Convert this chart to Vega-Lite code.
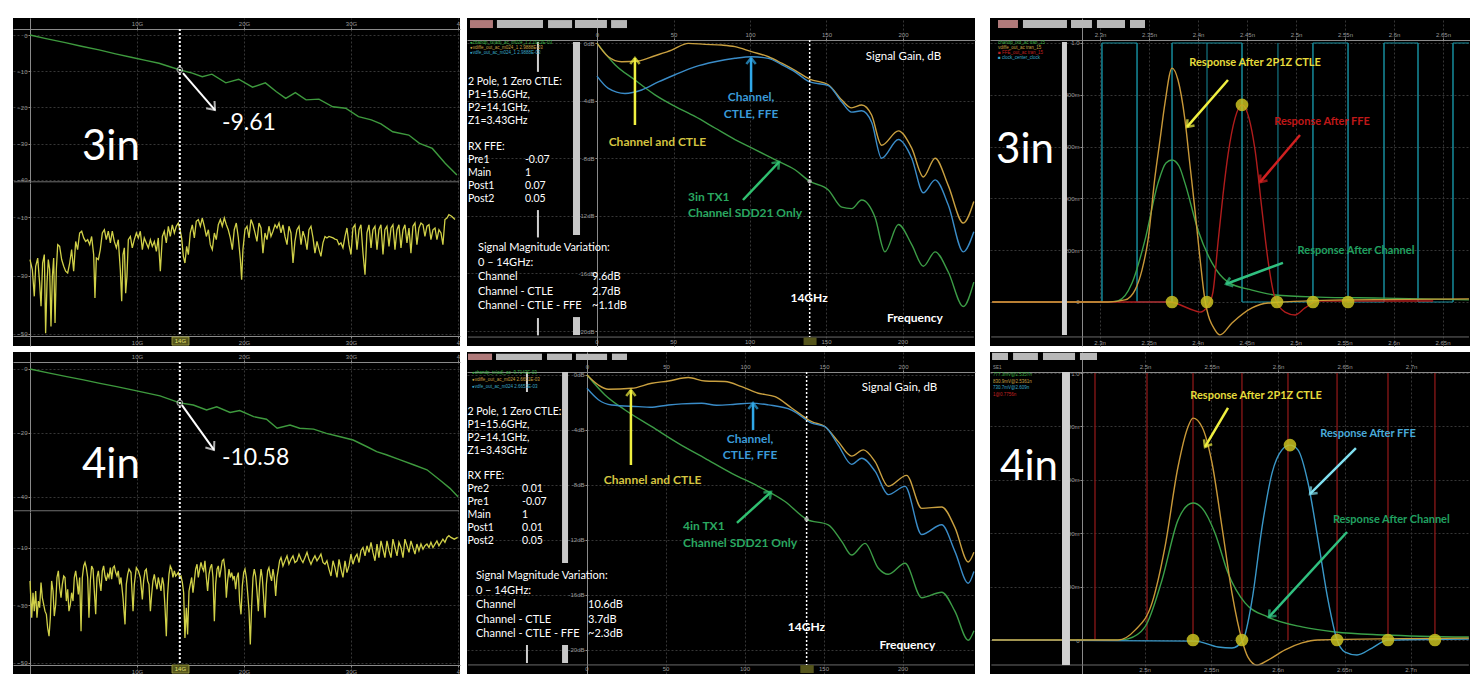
{
"$schema":"https://vega.github.io/schema/vega-lite/v6.json",
"background":"white",
"padding":{"left":13,"top":18,"right":0,"bottom":0},
"data":{"values":[{}]},
"config":{
 "view":{"stroke":null,"fill":"black"},
 "axis":{"labelColor":"#9a9a9a","labelFont":"Liberation Sans","labelFontSize":6,"domainColor":"#8a8a8a","tickColor":"#8a8a8a","gridColor":"#363636","gridDash":[2,2],"tickSize":2,"labelPadding":1,"labelFlush":false,"labelOverlap":false},
 "text":{"font":"Lato","color":"white"}
},
"datasets":{
"lu":[{"x":0,"y":0},{"x":1.5,"y":-1.0},{"x":3.3,"y":-2.1},{"x":4.8,"y":-3.1},{"x":6.45,"y":-4.1},{"x":8,"y":-5.2},{"x":9.56,"y":-6.2},{"x":10.8,"y":-7.0},{"x":12.06,"y":-7.8},{"x":13,"y":-8.7},{"x":14,"y":-9.61},{"x":15.17,"y":-10.5},{"x":16.1,"y":-11.5},{"x":17.0,"y":-10.8},{"x":18.3,"y":-13.2},{"x":19.5,"y":-12.2},{"x":20.8,"y":-14.4},{"x":22.0,"y":-13.2},{"x":23.0,"y":-15.6},{"x":23.9,"y":-17.5},{"x":24.8,"y":-15.9},{"x":25.8,"y":-17.9},{"x":27.0,"y":-17.7},{"x":28.3,"y":-19.8},{"x":29.5,"y":-20.2},{"x":30.7,"y":-22.5},{"x":31.9,"y":-23.4},{"x":32.8,"y":-24.5},{"x":33.9,"y":-26.7},{"x":35.4,"y":-27.6},{"x":36.4,"y":-29.9},{"x":37.6,"y":-31.3},{"x":38.8,"y":-35.4},{"x":39.9,"y":-38.6}],
"blu":[{"x":0,"y":0},{"x":1.7,"y":-1.2},{"x":3.43,"y":-2.4},{"x":5,"y":-3.4},{"x":6.54,"y":-4.5},{"x":8.1,"y":-5.5},{"x":9.65,"y":-6.6},{"x":12.15,"y":-8.4},{"x":14,"y":-10.58},{"x":15.26,"y":-11.25},{"x":16.5,"y":-12.8},{"x":17.45,"y":-11.8},{"x":18.7,"y":-13.6},{"x":19.6,"y":-13.0},{"x":20.9,"y":-14.9},{"x":22.1,"y":-15.7},{"x":23.1,"y":-18.5},{"x":24.3,"y":-17.5},{"x":25.2,"y":-18.5},{"x":26.5,"y":-18.8},{"x":27.7,"y":-20.1},{"x":28.9,"y":-21.1},{"x":30.2,"y":-22.2},{"x":31.5,"y":-24.3},{"x":32.4,"y":-25.8},{"x":33.3,"y":-26.8},{"x":34.6,"y":-28.4},{"x":35.9,"y":-30},{"x":37.1,"y":-31.5},{"x":38.3,"y":-34.7},{"x":39.25,"y":-37.3},{"x":40.0,"y":-39.9}],
"ll":[{"x":0,"y":-24.5},{"x":0.22,"y":-28},{"x":0.4,"y":-37.1},{"x":0.53,"y":-26.8},{"x":0.72,"y":-24},{"x":0.9,"y":-32.5},{"x":1.03,"y":-40.5},{"x":1.18,"y":-25.7},{"x":1.34,"y":-22.8},{"x":1.46,"y":-49.7},{"x":1.59,"y":-32.5},{"x":1.71,"y":-24.5},{"x":1.84,"y":-28},{"x":1.96,"y":-47.4},{"x":2.09,"y":-30.3},{"x":2.21,"y":-24},{"x":2.34,"y":-46.2},{"x":2.46,"y":-28},{"x":2.59,"y":-19.4},{"x":2.77,"y":-20},{"x":2.96,"y":-24.5},{"x":3.15,"y":-26.8},{"x":3.33,"y":-28.5},{"x":3.52,"y":-29.1},{"x":3.71,"y":-25.7},{"x":3.89,"y":-21.1},{"x":4.08,"y":-28.5},{"x":4.27,"y":-18.3},{"x":4.45,"y":-21.1},{"x":4.64,"y":-15.4},{"x":4.83,"y":-14.8},{"x":5.02,"y":-17.1},{"x":5.2,"y":-18.3},{"x":5.39,"y":-17.7},{"x":5.58,"y":-19.4},{"x":5.76,"y":-16.6},{"x":5.95,"y":-22.8},{"x":6.07,"y":-37.7},{"x":6.2,"y":-24},{"x":6.39,"y":-24.5},{"x":6.57,"y":-21.1},{"x":6.76,"y":-15.4},{"x":6.95,"y":-14.3},{"x":7.13,"y":-17.7},{"x":7.32,"y":-14.8},{"x":7.51,"y":-18.8},{"x":7.69,"y":-14.8},{"x":7.88,"y":-18.3},{"x":8.07,"y":-20.5},{"x":8.25,"y":-17.7},{"x":8.44,"y":-28},{"x":8.57,"y":-38.8},{"x":8.69,"y":-22.8},{"x":8.82,"y":-20.5},{"x":8.94,"y":-36},{"x":9.06,"y":-30.3},{"x":9.19,"y":-17.7},{"x":9.38,"y":-16.6},{"x":9.56,"y":-20.5},{"x":9.75,"y":-17.7},{"x":9.94,"y":-15.4},{"x":10.12,"y":-17.1},{"x":10.31,"y":-14.8},{"x":10.5,"y":-21.1},{"x":10.68,"y":-17.1},{"x":10.87,"y":-18.8},{"x":11.06,"y":-20.5},{"x":11.25,"y":-17.7},{"x":11.43,"y":-20},{"x":11.62,"y":-18.3},{"x":11.81,"y":-21.7},{"x":11.99,"y":-17.1},{"x":12.18,"y":-28.5},{"x":12.37,"y":-16.6},{"x":12.55,"y":-14.8},{"x":12.74,"y":-18.8},{"x":12.93,"y":-13.1},{"x":13.11,"y":-16.6},{"x":13.3,"y":-12.6},{"x":13.49,"y":-15.4},{"x":13.67,"y":-13.1},{"x":13.86,"y":-12},{"x":14.02,"y":-14.3},{"x":14.17,"y":-17.1},{"x":14.33,"y":-23.4},{"x":14.48,"y":-25.7},{"x":14.64,"y":-20},{"x":14.8,"y":-22.8},{"x":14.98,"y":-15.4},{"x":15.17,"y":-12.6},{"x":15.36,"y":-17.1},{"x":15.54,"y":-11.4},{"x":15.73,"y":-10.8},{"x":15.92,"y":-13.1},{"x":16.1,"y":-10.3},{"x":16.29,"y":-13.1},{"x":16.48,"y":-16.6},{"x":16.67,"y":-14.3},{"x":16.85,"y":-19.4},{"x":17.04,"y":-21.1},{"x":17.23,"y":-15.4},{"x":17.41,"y":-17.7},{"x":17.6,"y":-12.6},{"x":17.79,"y":-10.8},{"x":17.97,"y":-13.1},{"x":18.16,"y":-10.3},{"x":18.35,"y":-12.6},{"x":18.53,"y":-14.3},{"x":18.72,"y":-17.1},{"x":18.91,"y":-21.1},{"x":19.09,"y":-14.3},{"x":19.28,"y":-12},{"x":19.47,"y":-17.1},{"x":19.66,"y":-24.5},{"x":19.78,"y":-31.4},{"x":19.9,"y":-21.1},{"x":20.09,"y":-14.3},{"x":20.28,"y":-13.1},{"x":20.47,"y":-17.1},{"x":20.65,"y":-10.8},{"x":20.84,"y":-12.6},{"x":21.03,"y":-15.4},{"x":21.21,"y":-18.3},{"x":21.4,"y":-12},{"x":21.59,"y":-13.7},{"x":21.77,"y":-22.3},{"x":21.96,"y":-15.4},{"x":22.15,"y":-17.7},{"x":22.33,"y":-13.1},{"x":22.52,"y":-16.6},{"x":22.71,"y":-14.8},{"x":22.9,"y":-12.6},{"x":23.08,"y":-13.7},{"x":23.27,"y":-12},{"x":23.46,"y":-15.4},{"x":23.64,"y":-12.6},{"x":23.83,"y":-16.6},{"x":24.02,"y":-19.4},{"x":24.2,"y":-13.1},{"x":24.39,"y":-15.4},{"x":24.58,"y":-25.7},{"x":24.76,"y":-18.3},{"x":24.95,"y":-14.3},{"x":25.14,"y":-13.1},{"x":25.33,"y":-19.4},{"x":25.51,"y":-14.8},{"x":25.7,"y":-17.1},{"x":25.89,"y":-21.1},{"x":26.07,"y":-14.3},{"x":26.26,"y":-13.1},{"x":26.45,"y":-17.1},{"x":26.63,"y":-22.3},{"x":26.82,"y":-18.3},{"x":27.01,"y":-21.1},{"x":27.19,"y":-23.4},{"x":27.38,"y":-18.8},{"x":27.57,"y":-16.6},{"x":27.75,"y":-17.1},{"x":27.94,"y":-16.6},{"x":28.13,"y":-16.8},{"x":28.32,"y":-17.1},{"x":28.5,"y":-17.5},{"x":28.69,"y":-17.7},{"x":28.88,"y":-19.4},{"x":29.06,"y":-18.8},{"x":29.25,"y":-20.5},{"x":29.44,"y":-16.6},{"x":29.62,"y":-13.7},{"x":29.81,"y":-19.4},{"x":30,"y":-22.8},{"x":30.18,"y":-13.7},{"x":30.37,"y":-12.6},{"x":30.56,"y":-21.1},{"x":30.75,"y":-14.3},{"x":30.93,"y":-12.6},{"x":31.12,"y":-22.3},{"x":31.31,"y":-29.7},{"x":31.49,"y":-15.4},{"x":31.68,"y":-12.6},{"x":31.87,"y":-20.5},{"x":32.05,"y":-14.3},{"x":32.24,"y":-13.1},{"x":32.43,"y":-21.1},{"x":32.61,"y":-14.3},{"x":32.8,"y":-12.6},{"x":32.99,"y":-22.8},{"x":33.17,"y":-14.3},{"x":33.36,"y":-13.1},{"x":33.55,"y":-20},{"x":33.74,"y":-13.7},{"x":33.92,"y":-12.6},{"x":34.11,"y":-21.1},{"x":34.3,"y":-14.3},{"x":34.48,"y":-12.6},{"x":34.67,"y":-20.5},{"x":34.86,"y":-14.3},{"x":35.04,"y":-12.6},{"x":35.23,"y":-18.8},{"x":35.42,"y":-13.7},{"x":35.6,"y":-22.3},{"x":35.79,"y":-13.1},{"x":35.98,"y":-12},{"x":36.16,"y":-19.4},{"x":36.35,"y":-13.7},{"x":36.54,"y":-12},{"x":36.73,"y":-12.6},{"x":36.91,"y":-16.6},{"x":37.1,"y":-13.1},{"x":37.29,"y":-12.6},{"x":37.47,"y":-17.7},{"x":37.66,"y":-14.3},{"x":37.85,"y":-13.7},{"x":38.03,"y":-17.7},{"x":38.22,"y":-14.3},{"x":38.41,"y":-15.4},{"x":38.59,"y":-19.4},{"x":38.78,"y":-10.8},{"x":38.97,"y":-10.3},{"x":39.15,"y":-9.1},{"x":39.4,"y":-9.7},{"x":39.72,"y":-10.8}],
"bll":[{"x":0,"y":-21.5},{"x":0.16,"y":-34.3},{"x":0.28,"y":-25.6},{"x":0.4,"y":-32},{"x":0.53,"y":-25},{"x":0.65,"y":-34.3},{"x":0.78,"y":-28.5},{"x":0.9,"y":-30.8},{"x":1.03,"y":-22.1},{"x":1.15,"y":-27.3},{"x":1.28,"y":-29.7},{"x":1.4,"y":-32},{"x":1.53,"y":-33.1},{"x":1.65,"y":-37.8},{"x":1.78,"y":-40.7},{"x":1.9,"y":-34.3},{"x":2.02,"y":-21.5},{"x":2.15,"y":-25},{"x":2.27,"y":-33.7},{"x":2.4,"y":-29.7},{"x":2.52,"y":-20.3},{"x":2.65,"y":-18},{"x":2.77,"y":-23.8},{"x":2.9,"y":-27.3},{"x":3.02,"y":-22.7},{"x":3.15,"y":-19.8},{"x":3.27,"y":-20.3},{"x":3.4,"y":-28.5},{"x":3.52,"y":-24.4},{"x":3.64,"y":-32},{"x":3.77,"y":-29.7},{"x":3.89,"y":-25.6},{"x":4.02,"y":-28.5},{"x":4.14,"y":-20.3},{"x":4.27,"y":-18},{"x":4.39,"y":-21.5},{"x":4.52,"y":-26.2},{"x":4.64,"y":-20.3},{"x":4.77,"y":-39},{"x":4.89,"y":-20.3},{"x":5.02,"y":-16.3},{"x":5.14,"y":-15.1},{"x":5.26,"y":-16.9},{"x":5.39,"y":-20.3},{"x":5.51,"y":-34.3},{"x":5.64,"y":-21.5},{"x":5.76,"y":-16.3},{"x":5.89,"y":-17.4},{"x":6.01,"y":-25},{"x":6.14,"y":-33.1},{"x":6.26,"y":-20.3},{"x":6.39,"y":-18},{"x":6.51,"y":-22.1},{"x":6.63,"y":-25},{"x":6.76,"y":-18},{"x":6.88,"y":-16.3},{"x":7.01,"y":-19.8},{"x":7.13,"y":-21.5},{"x":7.26,"y":-19.2},{"x":7.38,"y":-20.3},{"x":7.51,"y":-16.9},{"x":7.63,"y":-20.9},{"x":7.76,"y":-16.9},{"x":7.88,"y":-16.3},{"x":8.01,"y":-18.6},{"x":8.13,"y":-19.8},{"x":8.25,"y":-18},{"x":8.38,"y":-22.7},{"x":8.5,"y":-20.3},{"x":8.69,"y":-27.3},{"x":8.88,"y":-36.6},{"x":9,"y":-22.7},{"x":9.13,"y":-19.2},{"x":9.25,"y":-17.4},{"x":9.44,"y":-18.6},{"x":9.63,"y":-32},{"x":9.75,"y":-22.7},{"x":9.94,"y":-16.9},{"x":10.12,"y":-18},{"x":10.31,"y":-20.3},{"x":10.5,"y":-27.9},{"x":10.62,"y":-21.5},{"x":10.75,"y":-18},{"x":10.87,"y":-17.4},{"x":11,"y":-21.5},{"x":11.12,"y":-22.7},{"x":11.25,"y":-32},{"x":11.37,"y":-26.2},{"x":11.49,"y":-21.5},{"x":11.62,"y":-19.2},{"x":11.74,"y":-22.1},{"x":11.87,"y":-24.4},{"x":11.99,"y":-20.3},{"x":12.12,"y":-22.7},{"x":12.24,"y":-25},{"x":12.37,"y":-20.3},{"x":12.49,"y":-22.7},{"x":12.62,"y":-30.8},{"x":12.74,"y":-40.7},{"x":12.86,"y":-26.2},{"x":12.99,"y":-19.2},{"x":13.11,"y":-16.3},{"x":13.24,"y":-17.4},{"x":13.36,"y":-20.3},{"x":13.49,"y":-18},{"x":13.61,"y":-19.8},{"x":13.74,"y":-19.2},{"x":13.86,"y":-18.6},{"x":13.99,"y":-20.3},{"x":14.11,"y":-19.8},{"x":14.24,"y":-22.1},{"x":14.36,"y":-25.6},{"x":14.48,"y":-41.3},{"x":14.61,"y":-30.8},{"x":14.73,"y":-40.1},{"x":14.86,"y":-25},{"x":14.98,"y":-22.7},{"x":15.11,"y":-20.3},{"x":15.23,"y":-25.6},{"x":15.36,"y":-21.5},{"x":15.48,"y":-17.4},{"x":15.61,"y":-15.7},{"x":15.73,"y":-20.3},{"x":15.86,"y":-17.4},{"x":15.98,"y":-15.1},{"x":16.1,"y":-16.9},{"x":16.23,"y":-18},{"x":16.35,"y":-14.5},{"x":16.48,"y":-20.3},{"x":16.6,"y":-25},{"x":16.73,"y":-19.2},{"x":16.85,"y":-16.9},{"x":16.98,"y":-15.7},{"x":17.1,"y":-20.3},{"x":17.23,"y":-35.5},{"x":17.35,"y":-22.7},{"x":17.48,"y":-17.4},{"x":17.6,"y":-16.3},{"x":17.72,"y":-20.3},{"x":17.85,"y":-17.4},{"x":17.97,"y":-14.5},{"x":18.1,"y":-14},{"x":18.22,"y":-17.4},{"x":18.35,"y":-27.3},{"x":18.47,"y":-21.5},{"x":18.6,"y":-17.4},{"x":18.72,"y":-20.3},{"x":18.85,"y":-18.6},{"x":18.97,"y":-20.9},{"x":19.09,"y":-19.8},{"x":19.22,"y":-24.4},{"x":19.34,"y":-20.3},{"x":19.47,"y":-18.6},{"x":19.59,"y":-28.5},{"x":19.72,"y":-33.1},{"x":19.84,"y":-23.3},{"x":19.97,"y":-18.6},{"x":20.09,"y":-17.4},{"x":20.22,"y":-20.3},{"x":20.34,"y":-25.6},{"x":20.47,"y":-32},{"x":20.59,"y":-43.6},{"x":20.71,"y":-30.8},{"x":20.84,"y":-20.3},{"x":20.96,"y":-17.4},{"x":21.09,"y":-19.8},{"x":21.21,"y":-25},{"x":21.34,"y":-32},{"x":21.46,"y":-22.7},{"x":21.59,"y":-17.4},{"x":21.71,"y":-20.3},{"x":21.84,"y":-27.3},{"x":21.96,"y":-34.3},{"x":22.09,"y":-22.7},{"x":22.21,"y":-18},{"x":22.33,"y":-16.9},{"x":22.46,"y":-19.8},{"x":22.58,"y":-21.5},{"x":22.71,"y":-17.4},{"x":22.83,"y":-20.3},{"x":22.96,"y":-26.7},{"x":23.08,"y":-20.3},{"x":23.21,"y":-17.4},{"x":23.33,"y":-14.5},{"x":23.46,"y":-13.4},{"x":23.64,"y":-16.3},{"x":23.83,"y":-14.5},{"x":24.02,"y":-12.8},{"x":24.2,"y":-15.7},{"x":24.39,"y":-14},{"x":24.58,"y":-12.8},{"x":24.76,"y":-15.1},{"x":24.95,"y":-14.5},{"x":25.14,"y":-12.2},{"x":25.33,"y":-14},{"x":25.51,"y":-15.1},{"x":25.7,"y":-13.4},{"x":25.89,"y":-11.6},{"x":26.07,"y":-14},{"x":26.26,"y":-15.7},{"x":26.45,"y":-14},{"x":26.63,"y":-12.8},{"x":26.82,"y":-14.5},{"x":27.01,"y":-13.4},{"x":27.19,"y":-12.2},{"x":27.38,"y":-15.1},{"x":27.57,"y":-15.7},{"x":27.75,"y":-14.5},{"x":27.94,"y":-17.4},{"x":28.13,"y":-19.8},{"x":28.32,"y":-14.5},{"x":28.5,"y":-16.9},{"x":28.69,"y":-20.3},{"x":28.88,"y":-14},{"x":29.06,"y":-17.4},{"x":29.25,"y":-20.3},{"x":29.44,"y":-14.5},{"x":29.62,"y":-18.6},{"x":29.81,"y":-16.3},{"x":30,"y":-12.2},{"x":30.18,"y":-15.7},{"x":30.37,"y":-13.4},{"x":30.56,"y":-12.2},{"x":30.75,"y":-15.1},{"x":30.93,"y":-11},{"x":31.12,"y":-9.9},{"x":31.31,"y":-12.8},{"x":31.49,"y":-9.3},{"x":31.68,"y":-11.6},{"x":31.87,"y":-8.1},{"x":32.05,"y":-11.6},{"x":32.24,"y":-14.5},{"x":32.43,"y":-8.7},{"x":32.61,"y":-13.4},{"x":32.8,"y":-7.6},{"x":32.99,"y":-10.5},{"x":33.17,"y":-13.4},{"x":33.36,"y":-7.6},{"x":33.55,"y":-11},{"x":33.74,"y":-13.4},{"x":33.92,"y":-7},{"x":34.11,"y":-9.9},{"x":34.3,"y":-12.8},{"x":34.48,"y":-8.1},{"x":34.67,"y":-9.9},{"x":34.86,"y":-13.4},{"x":35.04,"y":-7},{"x":35.23,"y":-9.3},{"x":35.42,"y":-11.6},{"x":35.6,"y":-7.6},{"x":35.79,"y":-9.9},{"x":35.98,"y":-12.2},{"x":36.16,"y":-8.7},{"x":36.35,"y":-11},{"x":36.54,"y":-8.7},{"x":36.73,"y":-10.5},{"x":36.91,"y":-9.3},{"x":37.1,"y":-8.7},{"x":37.29,"y":-9.9},{"x":37.47,"y":-8.1},{"x":37.66,"y":-9.9},{"x":37.85,"y":-8.7},{"x":38.03,"y":-7.6},{"x":38.22,"y":-9.3},{"x":38.41,"y":-8.1},{"x":38.59,"y":-7},{"x":38.78,"y":-8.1},{"x":38.97,"y":-6.4},{"x":39.15,"y":-5.8},{"x":39.34,"y":-6.4},{"x":39.65,"y":-7},{"x":39.97,"y":-6.4}],
"mt_ch":[{"x":0,"y":0},{"x":11.8,"y":-1.5},{"x":24.8,"y":-2.57},{"x":37.9,"y":-3.6},{"x":51,"y":-4.4},{"x":64,"y":-5.1},{"x":77.1,"y":-5.9},{"x":90.2,"y":-6.7},{"x":103.3,"y":-7.4},{"x":116.3,"y":-8.1},{"x":129.4,"y":-8.8},{"x":139,"y":-9.6},{"x":151.2,"y":-10.2},{"x":160,"y":-11.4},{"x":166.4,"y":-11.5},{"x":173,"y":-10.9},{"x":181.7,"y":-12.1},{"x":188.2,"y":-14.5},{"x":197,"y":-12.6},{"x":205.7,"y":-14},{"x":213.3,"y":-15.5},{"x":221,"y":-14.5},{"x":229.6,"y":-15.9},{"x":239.4,"y":-18.3},{"x":246.3,"y":-16.6}],
"mt_ctle":[{"x":0,"y":0},{"x":7.4,"y":-0.95},{"x":16.1,"y":-1.3},{"x":27,"y":-1.25},{"x":37.9,"y":-0.88},{"x":48.8,"y":-0.49},{"x":59.7,"y":-0.02},{"x":70.6,"y":-0.09},{"x":81.5,"y":-0.14},{"x":90.2,"y":-0.25},{"x":101,"y":-0.6},{"x":112,"y":-0.95},{"x":120.7,"y":-1.4},{"x":129.4,"y":-1.9},{"x":139,"y":-2.5},{"x":151.2,"y":-2.9},{"x":160,"y":-3.96},{"x":166.4,"y":-4.5},{"x":173,"y":-4.3},{"x":179.5,"y":-5},{"x":186,"y":-7.1},{"x":197,"y":-6.1},{"x":205.7,"y":-7.3},{"x":213.3,"y":-9.3},{"x":221,"y":-8},{"x":229.6,"y":-9.9},{"x":239.4,"y":-12.5},{"x":246.3,"y":-11.0}],
"mt_ffe":[{"x":0,"y":-2.3},{"x":7.4,"y":-3.15},{"x":18.3,"y":-3.5},{"x":29.2,"y":-3.26},{"x":40.1,"y":-2.7},{"x":51,"y":-2.2},{"x":64,"y":-1.65},{"x":77.1,"y":-1.3},{"x":90.2,"y":-1.06},{"x":101,"y":-0.95},{"x":112,"y":-1.06},{"x":120.7,"y":-1.5},{"x":129.4,"y":-2},{"x":139,"y":-2.7},{"x":151.2,"y":-2.95},{"x":160,"y":-4.1},{"x":166.4,"y":-4.8},{"x":173,"y":-4.7},{"x":179.5,"y":-5.5},{"x":186,"y":-8},{"x":197,"y":-6.7},{"x":205.7,"y":-8},{"x":213.3,"y":-10.4},{"x":221,"y":-9.5},{"x":229.6,"y":-11.25},{"x":239.4,"y":-14.5},{"x":246.3,"y":-13.1}],
"mb_ch":[{"x":0,"y":0},{"x":11.4,"y":-1.45},{"x":24.1,"y":-2.55},{"x":41,"y":-3.76},{"x":57.8,"y":-4.97},{"x":74.7,"y":-6.06},{"x":91.6,"y":-7.15},{"x":108.4,"y":-8.1},{"x":125.3,"y":-9.2},{"x":139,"y":-10.5},{"x":152.7,"y":-10.9},{"x":161.2,"y":-12.1},{"x":167.5,"y":-13.1},{"x":176,"y":-12.25},{"x":184.4,"y":-14.06},{"x":190.7,"y":-14.5},{"x":201.3,"y":-13.7},{"x":211.8,"y":-16.2},{"x":224.5,"y":-15.8},{"x":232.9,"y":-17.2},{"x":241.3,"y":-19.3},{"x":244.9,"y":-18.6}],
"mb_ctle":[{"x":0,"y":0},{"x":7.2,"y":-0.73},{"x":13.5,"y":-1.04},{"x":28.3,"y":-0.97},{"x":41,"y":-0.6},{"x":51.5,"y":-0.44},{"x":64.1,"y":-0.19},{"x":74.7,"y":-0.44},{"x":87.3,"y":-0.48},{"x":97.9,"y":-0.85},{"x":108.4,"y":-1.33},{"x":119,"y":-1.58},{"x":129.5,"y":-2.4},{"x":142.2,"y":-3.4},{"x":150.6,"y":-3.76},{"x":159,"y":-4.85},{"x":167.5,"y":-5.9},{"x":174.9,"y":-5.45},{"x":182.3,"y":-6.3},{"x":190.7,"y":-8.1},{"x":202.3,"y":-7.3},{"x":211.8,"y":-9.7},{"x":224.5,"y":-9.6},{"x":232.9,"y":-11.1},{"x":241.3,"y":-13.6},{"x":244.9,"y":-12.9}],
"mb_ffe":[{"x":0,"y":-0.97},{"x":7.2,"y":-1.8},{"x":15.6,"y":-2.18},{"x":32.5,"y":-2.3},{"x":40,"y":-2.35},{"x":51.5,"y":-2.18},{"x":60,"y":-2.1},{"x":72.6,"y":-2.06},{"x":82,"y":-2.2},{"x":93.7,"y":-2.13},{"x":104,"y":-2.05},{"x":114.8,"y":-2.18},{"x":129.5,"y":-2.55},{"x":142.2,"y":-3.5},{"x":150.6,"y":-3.76},{"x":159,"y":-5.1},{"x":167.5,"y":-6.5},{"x":173.9,"y":-6.06},{"x":182.3,"y":-7},{"x":190.7,"y":-8.7},{"x":201.3,"y":-8.1},{"x":211.8,"y":-11.6},{"x":224.5,"y":-10.9},{"x":232.9,"y":-12.85},{"x":241.3,"y":-15.15},{"x":244.9,"y":-14.3}],
"tm":[{"v":0,"l":"0"},{"v":50,"l":"50"},{"v":100,"l":"100"},{"v":150,"l":"150"},{"v":200,"l":"200"}],
"trt":[{"v":2.3,"l":"2.3n"},{"v":2.35,"l":"2.35n"},{"v":2.4,"l":"2.4n"},{"v":2.45,"l":"2.45n"},{"v":2.5,"l":"2.5n"},{"v":2.55,"l":"2.55n"},{"v":2.6,"l":"2.6n"},{"v":2.65,"l":"2.65n"}],
"trb":[{"v":2.5,"l":"2.5n"},{"v":2.55,"l":"2.55n"},{"v":2.6,"l":"2.6n"},{"v":2.65,"l":"2.65n"},{"v":2.7,"l":"2.7n"}],
"rt_clk":[{"x":2.19,"y":0},{"x":2.302,"y":1},{"x":2.3378,"y":0},{"x":2.3735,"y":1},{"x":2.4449,"y":0},{"x":2.5173,"y":1},{"x":2.5531,"y":0},{"x":2.5898,"y":1},{"x":2.6245,"y":0},{"x":2.6602,"y":1},{"x":2.6765,"y":1}],
"rt_ui":[{"x":2.302},{"x":2.3378},{"x":2.3735},{"x":2.4092},{"x":2.4449},{"x":2.4816},{"x":2.5173},{"x":2.5531},{"x":2.5898},{"x":2.6245},{"x":2.6602}],
"rt_ch":[{"x":2.19,"y":0},{"x":2.3102,"y":0},{"x":2.3184,"y":0.004},{"x":2.3327,"y":0.073},{"x":2.3459,"y":0.239},{"x":2.3592,"y":0.459},{"x":2.3673,"y":0.537},{"x":2.3735,"y":0.548},{"x":2.3806,"y":0.525},{"x":2.3867,"y":0.459},{"x":2.4,"y":0.278},{"x":2.4143,"y":0.151},{"x":2.4306,"y":0.077},{"x":2.4551,"y":0.046},{"x":2.4786,"y":0.027},{"x":2.5224,"y":0.019},{"x":2.5908,"y":0.015},{"x":2.6765,"y":0.008}],
"rt_ctle":[{"x":2.19,"y":0},{"x":2.3082,"y":0},{"x":2.3255,"y":0.008},{"x":2.3357,"y":0.046},{"x":2.3429,"y":0.124},{"x":2.349,"y":0.239},{"x":2.3561,"y":0.483},{"x":2.3612,"y":0.625},{"x":2.3663,"y":0.768},{"x":2.3735,"y":0.903},{"x":2.3796,"y":0.857},{"x":2.3867,"y":0.703},{"x":2.3918,"y":0.529},{"x":2.3969,"y":0.355},{"x":2.402,"y":0.17},{"x":2.4071,"y":0.008},{"x":2.4173,"y":-0.108},{"x":2.4224,"y":-0.127},{"x":2.4347,"y":-0.081},{"x":2.4551,"y":-0.023},{"x":2.4714,"y":-0.004},{"x":2.55,"y":0.008},{"x":2.6765,"y":0.012}],
"rt_ffe":[{"x":2.19,"y":0},{"x":2.3714,"y":0},{"x":2.3918,"y":-0.027},{"x":2.402,"y":-0.039},{"x":2.4102,"y":-0.015},{"x":2.4153,"y":0.039},{"x":2.4204,"y":0.228},{"x":2.4255,"y":0.413},{"x":2.4306,"y":0.568},{"x":2.4378,"y":0.71},{"x":2.4449,"y":0.761},{"x":2.452,"y":0.71},{"x":2.4582,"y":0.587},{"x":2.4653,"y":0.355},{"x":2.4714,"y":0.162},{"x":2.4786,"y":0.015},{"x":2.4888,"y":-0.039},{"x":2.499,"y":-0.05},{"x":2.5092,"y":-0.023},{"x":2.5224,"y":0.004},{"x":2.64,"y":0.004}],
"rt_dots":[{"x":2.3735,"y":0},{"x":2.4092,"y":0},{"x":2.4449,"y":0.761},{"x":2.4806,"y":0},{"x":2.5173,"y":0},{"x":2.5531,"y":0}],
"rb_ui":[{"x":2.4624},{"x":2.5015},{"x":2.5361},{"x":2.5729},{"x":2.6075},{"x":2.6444},{"x":2.6827},{"x":2.718}],
"rb_ch":[{"x":2.385,"y":0},{"x":2.4812,"y":0},{"x":2.4872,"y":0.004},{"x":2.5,"y":0.049},{"x":2.5128,"y":0.225},{"x":2.5248,"y":0.449},{"x":2.5323,"y":0.506},{"x":2.5361,"y":0.513},{"x":2.5429,"y":0.494},{"x":2.5526,"y":0.401},{"x":2.5624,"y":0.251},{"x":2.5752,"y":0.139},{"x":2.5925,"y":0.086},{"x":2.618,"y":0.049},{"x":2.6429,"y":0.03},{"x":2.6805,"y":0.019},{"x":2.7435,"y":0.011}],
"rb_ctle":[{"x":2.385,"y":0},{"x":2.4797,"y":0},{"x":2.4925,"y":0.037},{"x":2.5053,"y":0.139},{"x":2.515,"y":0.348},{"x":2.5248,"y":0.648},{"x":2.5323,"y":0.798},{"x":2.5361,"y":0.831},{"x":2.5429,"y":0.798},{"x":2.5504,"y":0.663},{"x":2.5579,"y":0.423},{"x":2.5654,"y":0.176},{"x":2.5729,"y":0},{"x":2.5774,"y":-0.064},{"x":2.5842,"y":-0.094},{"x":2.5925,"y":-0.075},{"x":2.6053,"y":-0.037},{"x":2.618,"y":-0.011},{"x":2.63,"y":0},{"x":2.7435,"y":0.007}],
"rb_ffe":[{"x":2.385,"y":0},{"x":2.5376,"y":-0.004},{"x":2.5549,"y":-0.026},{"x":2.5654,"y":-0.03},{"x":2.5737,"y":0},{"x":2.5805,"y":0.15},{"x":2.588,"y":0.423},{"x":2.5955,"y":0.625},{"x":2.603,"y":0.712},{"x":2.609,"y":0.73},{"x":2.615,"y":0.712},{"x":2.6226,"y":0.588},{"x":2.6301,"y":0.375},{"x":2.6376,"y":0.15},{"x":2.6444,"y":0},{"x":2.6504,"y":-0.045},{"x":2.6594,"y":-0.056},{"x":2.6707,"y":-0.03},{"x":2.6827,"y":0},{"x":2.7435,"y":0.004}],
"rb_dots":[{"x":2.5361,"y":0},{"x":2.5729,"y":0},{"x":2.609,"y":0.73},{"x":2.6444,"y":0},{"x":2.6827,"y":0},{"x":2.718,"y":0}]
},
"spacing":6,
"vconcat":[
{"spacing":15,"hconcat":[
 {"spacing":7,"hconcat":[
  {"spacing":0,"bounds":"flush","vconcat":[
   {"width":447,"height":165,"layer":[
    {"data":{"name":"lu"},"mark":{"type":"line","color":"#3e9a3e","strokeWidth":1.4,"clip":true},"encoding":{"x":{"field":"x","type":"quantitative","scale":{"domain":[-1.589,40.187],"nice":false,"zero":false},"axis":{"orient":"top","offset":-11,"values":[10,20,30,40],"labelExpr":"datum.value == 40 ? '4' : datum.value + 'G'","grid":true,"title":null,"labelOverlap":false}},"y":{"field":"y","type":"quantitative","scale":{"domain":[-40.83,4.69],"nice":false,"zero":false},"axis":{"orient":"left","offset":-17,"values":[0,-10,-20,-30,-40],"grid":true,"title":null,"labelOverlap":false}}}},
    {"mark":{"type":"rule","color":"#707070","strokeWidth":1},"encoding":{"x":{"datum":-1.5},"x2":{"datum":40.1},"y":{"datum":-40.5}}},
    {"mark":{"type":"rule","color":"white","strokeDash":[2,2],"strokeWidth":2},"encoding":{"x":{"datum":14},"y":{"datum":1.66},"y2":{"datum":-40.5}}},
    {"mark":{"type":"point","shape":"circle","size":30,"color":"#d0d0d0","strokeWidth":1.2},"encoding":{"x":{"datum":14},"y":{"datum":-9.61}}},
    {"mark":{"type":"rule","color":"white","strokeWidth":2},"encoding":{"x":{"datum":14.3},"y":{"datum":-10.5},"x2":{"datum":17.29},"y2":{"datum":-20.7}}},
    {"mark":{"type":"point","shape":"M -0.7 0.9 L 0 0 L 0.7 0.9","size":250,"filled":false,"color":"white","strokeWidth":2,"angle":139},"encoding":{"x":{"datum":17.29},"y":{"datum":-20.7}}},
    {"mark":{"type":"text","text":"-9.61","fontSize":23,"align":"left","baseline":"middle"},"encoding":{"x":{"datum":17.94},"y":{"datum":-24.28}}},
    {"mark":{"type":"text","text":"3in","fontSize":42,"align":"left","baseline":"middle"},"encoding":{"x":{"datum":4.86},"y":{"datum":-30.9}}}
   ]},
   {"width":447,"height":163,"layer":[
    {"data":{"name":"ll"},"mark":{"type":"line","color":"#d0d048","strokeWidth":1.3,"clip":true},"encoding":{"x":{"field":"x","type":"quantitative","scale":{"domain":[-1.589,40.187],"nice":false,"zero":false},"axis":{"orient":"bottom","offset":-10,"values":[10,20,30,40],"labelExpr":"datum.value == 40 ? '4' : datum.value + 'G'","grid":true,"title":null,"labelOverlap":false}},"y":{"field":"y","type":"quantitative","scale":{"domain":[-54.11,1.71],"nice":false,"zero":false},"axis":{"orient":"left","offset":-17,"values":[0,-10,-20,-30,-40,-50],"grid":true,"title":null,"labelOverlap":false}}}},
    {"mark":{"type":"rule","color":"white","strokeDash":[2,2],"strokeWidth":2},"encoding":{"x":{"datum":14},"y":{"datum":1.4},"y2":{"datum":-50.68}}},
    {"mark":{"type":"rect","color":"#55551c","stroke":"#a8a848","strokeWidth":0.8},"encoding":{"x":{"datum":13.27},"x2":{"datum":14.86},"y":{"datum":-51.03},"y2":{"datum":-53.8}}},
    {"mark":{"type":"text","text":"14G","fontSize":6,"color":"#e0e070","font":"Liberation Sans","baseline":"middle"},"encoding":{"x":{"datum":14.06},"y":{"datum":-52.5}}}
   ]}
  ]},
  {"width":508,"height":328,"layer":[
   {"data":{"name":"mt_ch"},"mark":{"type":"line","color":"#3c9c46","strokeWidth":1.4,"clip":true,"interpolate":"monotone"},"encoding":{"x":{"field":"x","type":"quantitative","scale":{"domain":[-84.97,247.06],"nice":false,"zero":false},"axis":{"orient":"top","offset":-22,"values":[0,50,100,150,200],"grid":true,"title":null,"labelOverlap":false}},"y":{"field":"y","type":"quantitative","scale":{"domain":[-21.04,1.74],"nice":false,"zero":false},"axis":{"orient":"left","offset":-130,"values":[0,-4,-8,-12,-16,-20],"labelExpr":"datum.value + 'dB'","grid":true,"title":null,"labelOverlap":false}}}},
   {"data":{"name":"mt_ctle"},"mark":{"type":"line","color":"#c9a040","strokeWidth":1.4,"clip":true,"interpolate":"monotone"},"encoding":{"x":{"field":"x","type":"quantitative"},"y":{"field":"y","type":"quantitative"}}},
   {"data":{"name":"mt_ffe"},"mark":{"type":"line","color":"#3a8cc8","strokeWidth":1.4,"clip":true,"interpolate":"monotone"},"encoding":{"x":{"field":"x","type":"quantitative"},"y":{"field":"y","type":"quantitative"}}},
   {"mark":{"type":"rule","color":"#6a6a6a"},"encoding":{"x":{"datum":-84.3},"x2":{"datum":246.3},"y":{"datum":-20.42}}},
   {"data":{"name":"tm"},"mark":{"type":"text","fontSize":6,"color":"#9a9a9a","font":"Liberation Sans","baseline":"middle"},"encoding":{"x":{"field":"v","type":"quantitative"},"y":{"datum":-20.76},"text":{"field":"l"}}},
   {"mark":{"type":"rule","color":"white","strokeDash":[2,2],"strokeWidth":1.5},"encoding":{"x":{"datum":139},"y":{"datum":0.21},"y2":{"datum":-20.42}}},
   {"mark":{"type":"point","shape":"circle","size":20,"color":"#c8c8c8","filled":true},"encoding":{"x":{"datum":139},"y":{"datum":-9.6}}},
   {"mark":{"type":"rect","color":"#55551c"},"encoding":{"x":{"datum":135},"x2":{"datum":143.5},"y":{"datum":-20.45},"y2":{"datum":-20.98}}},
   {"mark":{"type":"rect","color":"#b07a7a"},"encoding":{"x":{"datum":-83},"x2":{"datum":-68},"y":{"datum":1.597},"y2":{"datum":1.042}}},
   {"mark":{"type":"rect","color":"#b8b8b8"},"encoding":{"x":{"datum":-65.4},"x2":{"datum":-35.3},"y":{"datum":1.597},"y2":{"datum":1.042}}},
   {"mark":{"type":"rect","color":"#b8b8b8"},"encoding":{"x":{"datum":-32},"x2":{"datum":-16.3},"y":{"datum":1.597},"y2":{"datum":1.042}}},
   {"mark":{"type":"rect","color":"#b8b8b8"},"encoding":{"x":{"datum":-14.4},"x2":{"datum":6.5},"y":{"datum":1.597},"y2":{"datum":1.042}}},
   {"mark":{"type":"rect","color":"#b8b8b8"},"encoding":{"x":{"datum":9.2},"x2":{"datum":19.6},"y":{"datum":1.597},"y2":{"datum":1.042}}},
   {"mark":{"type":"rect","color":"#c8c8c8"},"encoding":{"x":{"datum":-15.7},"x2":{"datum":-11.1},"y":{"datum":0.07},"y2":{"datum":-13.33}}},
   {"mark":{"type":"rect","color":"#c8c8c8"},"encoding":{"x":{"datum":-15.7},"x2":{"datum":-11.1},"y":{"datum":-19.03},"y2":{"datum":-20.28}}},
   {"mark":{"type":"rule","color":"#d0d0d0","strokeWidth":2},"encoding":{"x":{"datum":-38.6},"y":{"datum":0.07},"y2":{"datum":-2.0}}},
   {"mark":{"type":"rule","color":"#d0d0d0","strokeWidth":2},"encoding":{"x":{"datum":-38.6},"y":{"datum":-11.6},"y2":{"datum":-13.5}}},
   {"mark":{"type":"rule","color":"#d0d0d0","strokeWidth":2},"encoding":{"x":{"datum":-38.6},"y":{"datum":-19.1},"y2":{"datum":-20.3}}},
   {"mark":{"type":"text","text":"\u25cfchandp_tx(ad)_ac_m024_1      2.1913E-03","fontSize":4.5,"color":"#3cb043","align":"left","baseline":"middle","font":"Liberation Sans"},"encoding":{"x":{"datum":-83},"y":{"datum":0}}},
   {"mark":{"type":"text","text":"\u25cfvdiffe_out_ac_m024_1        2.9888E-03","fontSize":4.5,"color":"#c8a040","align":"left","baseline":"middle","font":"Liberation Sans"},"encoding":{"x":{"datum":-83},"y":{"datum":-0.35}}},
   {"mark":{"type":"text","text":"\u25cfvdfe_out_ac_m024_1          2.9888E-03","fontSize":4.5,"color":"#3aa8c8","align":"left","baseline":"middle","font":"Liberation Sans"},"encoding":{"x":{"datum":-83},"y":{"datum":-0.69}}},
   {"mark":{"type":"text","text":["2 Pole, 1 Zero CTLE:","P1=15.6GHz,","P2=14.1GHz,","Z1=3.43GHz"],"fontSize":10.5,"align":"left","baseline":"top","lineHeight":12.9},"encoding":{"x":{"datum":-84.3},"y":{"datum":-2.39}}},
   {"mark":{"type":"text","text":["RX FFE:","Pre1","Main","Post1","Post2"],"fontSize":10.5,"align":"left","baseline":"top","lineHeight":12.9},"encoding":{"x":{"datum":-84.3},"y":{"datum":-6.9}}},
   {"mark":{"type":"text","text":["-0.07","1","0.07","0.05"],"fontSize":10.5,"align":"left","baseline":"top","lineHeight":12.9},"encoding":{"x":{"datum":-47.1},"y":{"datum":-7.8}}},
   {"mark":{"type":"text","text":["Signal Magnitude Variation:","0 \u2013 14GHz:","Channel","Channel - CTLE","Channel - CTLE - FFE"],"fontSize":11,"align":"left","baseline":"top","lineHeight":14.5},"encoding":{"x":{"datum":-77.8},"y":{"datum":-13.83}}},
   {"mark":{"type":"text","text":["9.6dB","2.7dB","~1.1dB"],"fontSize":11,"align":"left","baseline":"top","lineHeight":14.5},"encoding":{"x":{"datum":-3.27},"y":{"datum":-15.85}}},
   {"mark":{"type":"text","text":"Signal Gain, dB","fontSize":11.5,"baseline":"middle"},"encoding":{"x":{"datum":200.3},"y":{"datum":-0.97}}},
   {"mark":{"type":"text","text":"Frequency","fontSize":12,"fontWeight":"bold","baseline":"middle"},"encoding":{"x":{"datum":207.8},"y":{"datum":-19.1}}},
   {"mark":{"type":"text","text":"14GHz","fontSize":12,"fontWeight":"bold","baseline":"middle"},"encoding":{"x":{"datum":138.6},"y":{"datum":-17.7}}},
   {"mark":{"type":"text","text":"Channel and CTLE","fontSize":12,"fontWeight":"bold","color":"#d4c440","baseline":"middle"},"encoding":{"x":{"datum":39.5},"y":{"datum":-6.875}}},
   {"mark":{"type":"text","text":["Channel,","CTLE, FFE"],"fontSize":12,"fontWeight":"bold","color":"#3a9ad8","baseline":"top","lineHeight":17},"encoding":{"x":{"datum":100.7},"y":{"datum":-3.38}}},
   {"mark":{"type":"text","text":["3in TX1","Channel SDD21 Only"],"fontSize":12,"fontWeight":"bold","color":"#2aa860","align":"left","baseline":"top","lineHeight":16},"encoding":{"x":{"datum":59.5},"y":{"datum":-10.33}}},
   {"mark":{"type":"rule","color":"#f0f040","strokeWidth":2.5},"encoding":{"x":{"datum":24.8},"y":{"datum":-5.69},"y2":{"datum":-1.04}}},
   {"mark":{"type":"point","shape":"M -0.7 0.9 L 0 0 L 0.7 0.9","size":180,"filled":false,"color":"#f0f040","strokeWidth":2.5,"angle":0},"encoding":{"x":{"datum":24.8},"y":{"datum":-1.04}}},
   {"mark":{"type":"rule","color":"#30a8e8","strokeWidth":2.5},"encoding":{"x":{"datum":100.7},"y":{"datum":-3.4},"y2":{"datum":-1.04}}},
   {"mark":{"type":"point","shape":"M -0.7 0.9 L 0 0 L 0.7 0.9","size":180,"filled":false,"color":"#30a8e8","strokeWidth":2.5,"angle":0},"encoding":{"x":{"datum":100.7},"y":{"datum":-1.04}}},
   {"mark":{"type":"rule","color":"#30c070","strokeWidth":2.5},"encoding":{"x":{"datum":95.4},"y":{"datum":-10.9},"x2":{"datum":119},"y2":{"datum":-8.26}}},
   {"mark":{"type":"point","shape":"M -0.7 0.9 L 0 0 L 0.7 0.9","size":180,"filled":false,"color":"#30c070","strokeWidth":2.5,"angle":43.5},"encoding":{"x":{"datum":119},"y":{"datum":-8.26}}}
  ]}
 ]},
 {"width":480,"height":328,"layer":[
  {"data":{"name":"rt_clk"},"mark":{"type":"line","color":"#168c9c","strokeWidth":1,"interpolate":"step-after","clip":true},"encoding":{"x":{"field":"x","type":"quantitative","scale":{"domain":[2.18776,2.67755],"nice":false,"zero":false},"axis":{"orient":"top","offset":-22,"values":[2.3,2.35,2.4,2.45,2.5,2.55,2.6,2.65],"labelExpr":"format(datum.value, '.2~f') + 'n'","grid":true,"title":null,"labelOverlap":false}},"y":{"field":"y","type":"quantitative","scale":{"domain":[-0.1699,1.0965],"nice":false,"zero":false},"axis":{"orient":"left","offset":-92,"values":[0,0.2,0.4,0.6,0.8,1],"labelExpr":"datum.value == 0 ? '0' : datum.value == 1 ? '1.0' : format(datum.value*1000, 'd') + 'm'","grid":true,"title":null,"labelOverlap":false}}}},
  {"data":{"name":"rt_ui"},"mark":{"type":"rule","color":"#168c9c","strokeWidth":1},"encoding":{"x":{"field":"x","type":"quantitative"},"y":{"datum":0},"y2":{"datum":1}}},
  {"data":{"name":"rt_ch"},"mark":{"type":"line","color":"#3aa048","strokeWidth":1.4,"clip":true,"interpolate":"monotone"},"encoding":{"x":{"field":"x","type":"quantitative"},"y":{"field":"y","type":"quantitative"}}},
  {"data":{"name":"rt_ffe"},"mark":{"type":"line","color":"#b01c1c","strokeWidth":1.4,"clip":true,"interpolate":"monotone"},"encoding":{"x":{"field":"x","type":"quantitative"},"y":{"field":"y","type":"quantitative"}}},
  {"data":{"name":"rt_ctle"},"mark":{"type":"line","color":"#c89838","strokeWidth":1.4,"clip":true,"interpolate":"monotone"},"encoding":{"x":{"field":"x","type":"quantitative"},"y":{"field":"y","type":"quantitative"}}},
  {"data":{"name":"rt_dots"},"mark":{"type":"point","filled":true,"size":160,"color":"#c8c020","opacity":0.85},"encoding":{"x":{"field":"x","type":"quantitative"},"y":{"field":"y","type":"quantitative"}}},
  {"mark":{"type":"rule","color":"#6a6a6a"},"encoding":{"x":{"datum":2.189},"x2":{"datum":2.6765},"y":{"datum":-0.135}}},
  {"data":{"name":"trt"},"mark":{"type":"text","fontSize":6,"color":"#9a9a9a","font":"Liberation Sans","baseline":"middle"},"encoding":{"x":{"field":"v","type":"quantitative"},"y":{"datum":-0.158},"text":{"field":"l"}}},
  {"mark":{"type":"rect","color":"#b07a7a"},"encoding":{"x":{"datum":2.1959},"x2":{"datum":2.2163},"y":{"datum":1.0888},"y2":{"datum":1.0579}}},
  {"mark":{"type":"rect","color":"#b8b8b8"},"encoding":{"x":{"datum":2.2214},"x2":{"datum":2.2663},"y":{"datum":1.0888},"y2":{"datum":1.0579}}},
  {"mark":{"type":"rect","color":"#b8b8b8"},"encoding":{"x":{"datum":2.2704},"x2":{"datum":2.2918},"y":{"datum":1.0888},"y2":{"datum":1.0579}}},
  {"mark":{"type":"rect","color":"#b8b8b8"},"encoding":{"x":{"datum":2.2969},"x2":{"datum":2.3255},"y":{"datum":1.0888},"y2":{"datum":1.0579}}},
  {"mark":{"type":"rect","color":"#b8b8b8"},"encoding":{"x":{"datum":2.3306},"x2":{"datum":2.3459},"y":{"datum":1.0888},"y2":{"datum":1.0579}}},
  {"mark":{"type":"rect","color":"#d0d0d0"},"encoding":{"x":{"datum":2.2612},"x2":{"datum":2.2663},"y":{"datum":1.0039},"y2":{"datum":-0.1274}}},
  {"mark":{"type":"text","text":"chandp_txd_ac tran_15","fontSize":4.5,"color":"#3cb043","align":"left","baseline":"middle","font":"Liberation Sans"},"encoding":{"x":{"datum":2.1959},"y":{"datum":1.0}}},
  {"mark":{"type":"text","text":"vdiffe_out_ac tran_15","fontSize":4.5,"color":"#c8a040","align":"left","baseline":"middle","font":"Liberation Sans"},"encoding":{"x":{"datum":2.1959},"y":{"datum":0.981}}},
  {"mark":{"type":"text","text":"\u25a0 FFE_out_ac tran_15","fontSize":4.5,"color":"#c02020","align":"left","baseline":"middle","font":"Liberation Sans"},"encoding":{"x":{"datum":2.1959},"y":{"datum":0.961}}},
  {"mark":{"type":"text","text":"\u25a0 clock_center_clock","fontSize":4.5,"color":"#3aa8c8","align":"left","baseline":"middle","font":"Liberation Sans"},"encoding":{"x":{"datum":2.1959},"y":{"datum":0.942}}},
  {"mark":{"type":"text","text":"3in","fontSize":42,"align":"left","baseline":"middle"},"encoding":{"x":{"datum":2.1939},"y":{"datum":0.587}}},
  {"mark":{"type":"text","text":"Response After 2P1Z CTLE","fontSize":11,"fontWeight":"bold","color":"#e6dc3c","baseline":"middle"},"encoding":{"x":{"datum":2.4582},"y":{"datum":0.9228}}},
  {"mark":{"type":"text","text":"Response After FFE","fontSize":11,"fontWeight":"bold","color":"#c01818","baseline":"middle"},"encoding":{"x":{"datum":2.5265},"y":{"datum":0.695}}},
  {"mark":{"type":"text","text":"Response After Channel","fontSize":11,"fontWeight":"bold","color":"#20a060","baseline":"middle"},"encoding":{"x":{"datum":2.5612},"y":{"datum":0.197}}},
  {"mark":{"type":"rule","color":"#f0f040","strokeWidth":2.5},"encoding":{"x":{"datum":2.4306},"y":{"datum":0.857},"x2":{"datum":2.3888},"y2":{"datum":0.676}}},
  {"mark":{"type":"point","shape":"M -0.7 0.9 L 0 0 L 0.7 0.9","size":180,"filled":false,"color":"#f0f040","strokeWidth":2.5,"angle":-138.9},"encoding":{"x":{"datum":2.3888},"y":{"datum":0.676}}},
  {"mark":{"type":"rule","color":"#d02020","strokeWidth":2.5},"encoding":{"x":{"datum":2.5041},"y":{"datum":0.645},"x2":{"datum":2.4633},"y2":{"datum":0.463}}},
  {"mark":{"type":"point","shape":"M -0.7 0.9 L 0 0 L 0.7 0.9","size":180,"filled":false,"color":"#d02020","strokeWidth":2.5,"angle":-139.6},"encoding":{"x":{"datum":2.4633},"y":{"datum":0.463}}},
  {"mark":{"type":"rule","color":"#30c080","strokeWidth":2.5},"encoding":{"x":{"datum":2.4867},"y":{"datum":0.151},"x2":{"datum":2.4286},"y2":{"datum":0.0695}}},
  {"mark":{"type":"point","shape":"M -0.7 0.9 L 0 0 L 0.7 0.9","size":180,"filled":false,"color":"#30c080","strokeWidth":2.5,"angle":-110.2},"encoding":{"x":{"datum":2.4286},"y":{"datum":0.0695}}}
 ]}
]},
{"spacing":15,"hconcat":[
 {"spacing":7,"hconcat":[
  {"spacing":0,"bounds":"flush","vconcat":[
   {"width":447,"height":160,"layer":[
    {"data":{"name":"blu"},"mark":{"type":"line","color":"#3e9a3e","strokeWidth":1.4,"clip":true},"encoding":{"x":{"field":"x","type":"quantitative","scale":{"domain":[-1.589,40.187],"nice":false,"zero":false},"axis":{"orient":"top","offset":-10,"values":[10,20,30,40],"labelExpr":"datum.value == 40 ? '4' : datum.value + 'G'","grid":true,"title":null,"labelOverlap":false}},"y":{"field":"y","type":"quantitative","scale":{"domain":[-44.69,5.31],"nice":false,"zero":false},"axis":{"orient":"left","offset":-17,"values":[0,-10,-20,-30,-40],"grid":true,"title":null,"labelOverlap":false}}}},
    {"mark":{"type":"rule","color":"#707070","strokeWidth":1},"encoding":{"x":{"datum":-1.5},"x2":{"datum":40.1},"y":{"datum":-44.3}}},
    {"mark":{"type":"rule","color":"white","strokeDash":[2,2],"strokeWidth":2},"encoding":{"x":{"datum":14},"y":{"datum":2.19},"y2":{"datum":-44.3}}},
    {"mark":{"type":"point","shape":"circle","size":30,"color":"#d0d0d0","strokeWidth":1.2},"encoding":{"x":{"datum":14},"y":{"datum":-10.58}}},
    {"mark":{"type":"rule","color":"white","strokeWidth":2},"encoding":{"x":{"datum":14.2},"y":{"datum":-11.3},"x2":{"datum":17.2},"y2":{"datum":-25.3}}},
    {"mark":{"type":"point","shape":"M -0.7 0.9 L 0 0 L 0.7 0.9","size":250,"filled":false,"color":"white","strokeWidth":2,"angle":144},"encoding":{"x":{"datum":17.2},"y":{"datum":-25.3}}},
    {"mark":{"type":"text","text":"-10.58","fontSize":23,"align":"left","baseline":"middle"},"encoding":{"x":{"datum":17.94},"y":{"datum":-27.8}}},
    {"mark":{"type":"text","text":"4in","fontSize":42,"align":"left","baseline":"middle"},"encoding":{"x":{"datum":4.86},"y":{"datum":-30.0}}}
   ]},
   {"width":447,"height":162,"layer":[
    {"data":{"name":"bll"},"mark":{"type":"line","color":"#d0d048","strokeWidth":1.3,"clip":true},"encoding":{"x":{"field":"x","type":"quantitative","scale":{"domain":[-1.589,40.187],"nice":false,"zero":false},"axis":{"orient":"bottom","offset":-9,"values":[10,20,30,40],"labelExpr":"datum.value == 40 ? '4' : datum.value + 'G'","grid":true,"title":null,"labelOverlap":false}},"y":{"field":"y","type":"quantitative","scale":{"domain":[-53.82,2.43],"nice":false,"zero":false},"axis":{"orient":"left","offset":-17,"values":[0,-10,-20,-30,-40,-50],"grid":true,"title":null,"labelOverlap":false}}}},
    {"mark":{"type":"rule","color":"white","strokeDash":[2,2],"strokeWidth":2},"encoding":{"x":{"datum":14},"y":{"datum":2.1},"y2":{"datum":-50.7}}},
    {"mark":{"type":"rect","color":"#55551c","stroke":"#a8a848","strokeWidth":0.8},"encoding":{"x":{"datum":13.27},"x2":{"datum":14.86},"y":{"datum":-50.7},"y2":{"datum":-53.5}}},
    {"mark":{"type":"text","text":"14G","fontSize":6,"color":"#e0e070","font":"Liberation Sans","baseline":"middle"},"encoding":{"x":{"datum":14.06},"y":{"datum":-52.1}}}
   ]}
  ]},
  {"width":508,"height":322,"layer":[
   {"data":{"name":"mb_ch"},"mark":{"type":"line","color":"#3c9c46","strokeWidth":1.4,"clip":true,"interpolate":"monotone"},"encoding":{"x":{"field":"x","type":"quantitative","scale":{"domain":[-75.95,245.57],"nice":false,"zero":false},"axis":{"orient":"top","offset":-20,"values":[0,50,100,150,200],"grid":true,"title":null,"labelOverlap":false}},"y":{"field":"y","type":"quantitative","scale":{"domain":[-21.75,1.67],"nice":false,"zero":false},"axis":{"orient":"left","offset":-120,"values":[0,-4,-8,-12,-16,-20],"labelExpr":"datum.value + 'dB'","grid":true,"title":null,"labelOverlap":false}}}},
   {"data":{"name":"mb_ctle"},"mark":{"type":"line","color":"#c9a040","strokeWidth":1.4,"clip":true,"interpolate":"monotone"},"encoding":{"x":{"field":"x","type":"quantitative"},"y":{"field":"y","type":"quantitative"}}},
   {"data":{"name":"mb_ffe"},"mark":{"type":"line","color":"#3a8cc8","strokeWidth":1.4,"clip":true,"interpolate":"monotone"},"encoding":{"x":{"field":"x","type":"quantitative"},"y":{"field":"y","type":"quantitative"}}},
   {"mark":{"type":"rule","color":"#6a6a6a"},"encoding":{"x":{"datum":-75.3},"x2":{"datum":244.9},"y":{"datum":-21.09}}},
   {"data":{"name":"tm"},"mark":{"type":"text","fontSize":6,"color":"#9a9a9a","font":"Liberation Sans","baseline":"middle"},"encoding":{"x":{"field":"v","type":"quantitative"},"y":{"datum":-21.42},"text":{"field":"l"}}},
   {"mark":{"type":"rule","color":"white","strokeDash":[2,2],"strokeWidth":1.5},"encoding":{"x":{"datum":139},"y":{"datum":0.22},"y2":{"datum":-21.09}}},
   {"mark":{"type":"point","shape":"circle","size":20,"color":"#c8c8c8","filled":true},"encoding":{"x":{"datum":139},"y":{"datum":-10.5}}},
   {"mark":{"type":"rect","color":"#55551c"},"encoding":{"x":{"datum":135},"x2":{"datum":143.5},"y":{"datum":-21.1},"y2":{"datum":-21.68}}},
   {"mark":{"type":"rect","color":"#b07a7a"},"encoding":{"x":{"datum":-75.3},"x2":{"datum":-60.1},"y":{"datum":1.55},"y2":{"datum":1.09}}},
   {"mark":{"type":"rect","color":"#b8b8b8"},"encoding":{"x":{"datum":-57.6},"x2":{"datum":-28.5},"y":{"datum":1.55},"y2":{"datum":1.09}}},
   {"mark":{"type":"rect","color":"#b8b8b8"},"encoding":{"x":{"datum":-25.3},"x2":{"datum":-9.5},"y":{"datum":1.55},"y2":{"datum":1.09}}},
   {"mark":{"type":"rect","color":"#b8b8b8"},"encoding":{"x":{"datum":-7},"x2":{"datum":12.7},"y":{"datum":1.55},"y2":{"datum":1.09}}},
   {"mark":{"type":"rect","color":"#b8b8b8"},"encoding":{"x":{"datum":15.8},"x2":{"datum":25.3},"y":{"datum":1.55},"y2":{"datum":1.09}}},
   {"mark":{"type":"rect","color":"#c8c8c8"},"encoding":{"x":{"datum":-15.8},"x2":{"datum":-12},"y":{"datum":0.22},"y2":{"datum":-13.67}}},
   {"mark":{"type":"rect","color":"#c8c8c8"},"encoding":{"x":{"datum":-15.8},"x2":{"datum":-12},"y":{"datum":-19.64},"y2":{"datum":-20.95}}},
   {"mark":{"type":"rule","color":"#d0d0d0","strokeWidth":2},"encoding":{"x":{"datum":-38},"y":{"datum":0.22},"y2":{"datum":-1.24}}},
   {"mark":{"type":"rule","color":"#d0d0d0","strokeWidth":2},"encoding":{"x":{"datum":-38},"y":{"datum":-19.64},"y2":{"datum":-20.95}}},
   {"mark":{"type":"text","text":"\u25cfchandp_tx(ad)_ac      -9.7143E-03","fontSize":4.5,"color":"#3cb043","align":"left","baseline":"middle","font":"Liberation Sans"},"encoding":{"x":{"datum":-72.8},"y":{"datum":0.15}}},
   {"mark":{"type":"text","text":"\u25cfvdiffe_out_ac_m024   2.6651E-03","fontSize":4.5,"color":"#c8a040","align":"left","baseline":"middle","font":"Liberation Sans"},"encoding":{"x":{"datum":-72.8},"y":{"datum":-0.36}}},
   {"mark":{"type":"text","text":"\u25cfvdfe_out_ac_m024     2.6651E-03","fontSize":4.5,"color":"#3aa8c8","align":"left","baseline":"middle","font":"Liberation Sans"},"encoding":{"x":{"datum":-72.8},"y":{"datum":-0.87}}},
   {"mark":{"type":"text","text":["2 Pole, 1 Zero CTLE:","P1=15.6GHz,","P2=14.1GHz,","Z1=3.43GHz"],"fontSize":10.5,"align":"left","baseline":"top","lineHeight":12.9},"encoding":{"x":{"datum":-75.6},"y":{"datum":-2.36}}},
   {"mark":{"type":"text","text":["RX FFE:","Pre2","Pre1","Main","Post1","Post2"],"fontSize":10.5,"align":"left","baseline":"top","lineHeight":13},"encoding":{"x":{"datum":-75.6},"y":{"datum":-7.01}}},
   {"mark":{"type":"text","text":["0.01","-0.07","1","0.01","0.05"],"fontSize":10.5,"align":"left","baseline":"top","lineHeight":13},"encoding":{"x":{"datum":-41.1},"y":{"datum":-7.96}}},
   {"mark":{"type":"text","text":["Signal Magnitude Variation:","0 \u2013 14GHz:","Channel","Channel - CTLE","Channel - CTLE - FFE"],"fontSize":11,"align":"left","baseline":"top","lineHeight":14.5},"encoding":{"x":{"datum":-70.3},"y":{"datum":-14.2}}},
   {"mark":{"type":"text","text":["10.6dB","3.7dB","~2.3dB"],"fontSize":11,"align":"left","baseline":"top","lineHeight":14.5},"encoding":{"x":{"datum":0.63},"y":{"datum":-16.31}}},
   {"mark":{"type":"text","text":"Signal Gain, dB","fontSize":11.5,"baseline":"middle"},"encoding":{"x":{"datum":197.8},"y":{"datum":-0.95}}},
   {"mark":{"type":"text","text":"Frequency","fontSize":12,"fontWeight":"bold","baseline":"middle"},"encoding":{"x":{"datum":202.8},"y":{"datum":-19.64}}},
   {"mark":{"type":"text","text":"14GHz","fontSize":12,"fontWeight":"bold","baseline":"middle"},"encoding":{"x":{"datum":138.9},"y":{"datum":-18.33}}},
   {"mark":{"type":"text","text":"Channel and CTLE","fontSize":12,"fontWeight":"bold","color":"#d4c440","baseline":"middle"},"encoding":{"x":{"datum":41.5},"y":{"datum":-7.64}}},
   {"mark":{"type":"text","text":["Channel,","CTLE, FFE"],"fontSize":12,"fontWeight":"bold","color":"#3a9ad8","baseline":"top","lineHeight":16},"encoding":{"x":{"datum":103.2},"y":{"datum":-4.27}}},
   {"mark":{"type":"text","text":["4in TX1","Channel SDD21 Only"],"fontSize":12,"fontWeight":"bold","color":"#2aa860","align":"left","baseline":"top","lineHeight":17},"encoding":{"x":{"datum":60.8},"y":{"datum":-10.6}}},
   {"mark":{"type":"rule","color":"#f0f040","strokeWidth":2.5},"encoding":{"x":{"datum":27.8},"y":{"datum":-6.55},"y2":{"datum":-1.09}}},
   {"mark":{"type":"point","shape":"M -0.7 0.9 L 0 0 L 0.7 0.9","size":180,"filled":false,"color":"#f0f040","strokeWidth":2.5,"angle":0},"encoding":{"x":{"datum":27.8},"y":{"datum":-1.09}}},
   {"mark":{"type":"rule","color":"#30a8e8","strokeWidth":2.5},"encoding":{"x":{"datum":105.1},"y":{"datum":-4.0},"y2":{"datum":-2.04}}},
   {"mark":{"type":"point","shape":"M -0.7 0.9 L 0 0 L 0.7 0.9","size":180,"filled":false,"color":"#30a8e8","strokeWidth":2.5,"angle":0},"encoding":{"x":{"datum":105.1},"y":{"datum":-2.04}}},
   {"mark":{"type":"rule","color":"#30c070","strokeWidth":2.5},"encoding":{"x":{"datum":94.9},"y":{"datum":-10.76},"x2":{"datum":116.5},"y2":{"datum":-8.51}}},
   {"mark":{"type":"point","shape":"M -0.7 0.9 L 0 0 L 0.7 0.9","size":180,"filled":false,"color":"#30c070","strokeWidth":2.5,"angle":47.6},"encoding":{"x":{"datum":116.5},"y":{"datum":-8.51}}}
  ]}
 ]},
 {"width":480,"height":322,"layer":[
  {"data":{"name":"rb_ui"},"mark":{"type":"rule","color":"#8c1818","strokeWidth":1.3},"encoding":{"x":{"field":"x","type":"quantitative","scale":{"domain":[2.38346,2.74436],"nice":false,"zero":false},"axis":{"orient":"top","offset":-20,"values":[2.5,2.55,2.6,2.65,2.7],"labelExpr":"format(datum.value, '.2~f') + 'n'","grid":true,"title":null,"labelOverlap":false}},"y":{"datum":0,"scale":{"domain":[-0.1273,1.0787],"nice":false,"zero":false},"axis":{"orient":"left","offset":-92,"values":[0,0.2,0.4,0.6,0.8,1],"labelExpr":"datum.value == 0 ? '0' : datum.value == 1 ? '1.0' : format(datum.value*1000, 'd') + 'm'","grid":true,"title":null,"labelOverlap":false}},"y2":{"datum":1}}},
  {"data":{"name":"rb_ch"},"mark":{"type":"line","color":"#3aa048","strokeWidth":1.4,"clip":true,"interpolate":"monotone"},"encoding":{"x":{"field":"x","type":"quantitative"},"y":{"field":"y","type":"quantitative"}}},
  {"data":{"name":"rb_ffe"},"mark":{"type":"line","color":"#3a98c8","strokeWidth":1.4,"clip":true,"interpolate":"monotone"},"encoding":{"x":{"field":"x","type":"quantitative"},"y":{"field":"y","type":"quantitative"}}},
  {"data":{"name":"rb_ctle"},"mark":{"type":"line","color":"#c89838","strokeWidth":1.4,"clip":true,"interpolate":"monotone"},"encoding":{"x":{"field":"x","type":"quantitative"},"y":{"field":"y","type":"quantitative"}}},
  {"data":{"name":"rb_dots"},"mark":{"type":"point","filled":true,"size":160,"color":"#c8c020","opacity":0.85},"encoding":{"x":{"field":"x","type":"quantitative"},"y":{"field":"y","type":"quantitative"}}},
  {"mark":{"type":"rule","color":"#6a6a6a"},"encoding":{"x":{"datum":2.3845},"x2":{"datum":2.7435},"y":{"datum":-0.0936}}},
  {"data":{"name":"trb"},"mark":{"type":"text","fontSize":6,"color":"#9a9a9a","font":"Liberation Sans","baseline":"middle"},"encoding":{"x":{"field":"v","type":"quantitative"},"y":{"datum":-0.1124},"text":{"field":"l"}}},
  {"mark":{"type":"rect","color":"#b8b8b8"},"encoding":{"x":{"datum":2.385},"x2":{"datum":2.397},"y":{"datum":1.0757},"y2":{"datum":1.0487}}},
  {"mark":{"type":"rect","color":"#b8b8b8"},"encoding":{"x":{"datum":2.4008},"x2":{"datum":2.4195},"y":{"datum":1.0757},"y2":{"datum":1.0487}}},
  {"mark":{"type":"rect","color":"#b8b8b8"},"encoding":{"x":{"datum":2.4233},"x2":{"datum":2.4474},"y":{"datum":1.0757},"y2":{"datum":1.0487}}},
  {"mark":{"type":"rect","color":"#b8b8b8"},"encoding":{"x":{"datum":2.4511},"x2":{"datum":2.4639},"y":{"datum":1.0757},"y2":{"datum":1.0487}}},
  {"mark":{"type":"rect","color":"#d0d0d0"},"encoding":{"x":{"datum":2.4376},"x2":{"datum":2.4436},"y":{"datum":1.0037},"y2":{"datum":-0.0936}}},
  {"mark":{"type":"text","text":"SE1","fontSize":4.5,"color":"#9a9a9a","align":"left","baseline":"middle","font":"Liberation Sans"},"encoding":{"x":{"datum":2.3857},"y":{"datum":1.0187}}},
  {"mark":{"type":"text","text":"777.3mV@2.5357n","fontSize":4.5,"color":"#3cb043","align":"left","baseline":"middle","font":"Liberation Sans"},"encoding":{"x":{"datum":2.3857},"y":{"datum":0.9925}}},
  {"mark":{"type":"text","text":"830.9mV@2.5361n","fontSize":4.5,"color":"#c8a040","align":"left","baseline":"middle","font":"Liberation Sans"},"encoding":{"x":{"datum":2.3857},"y":{"datum":0.9663}}},
  {"mark":{"type":"text","text":"730.7mV@2.609n","fontSize":4.5,"color":"#3aa8c8","align":"left","baseline":"middle","font":"Liberation Sans"},"encoding":{"x":{"datum":2.3857},"y":{"datum":0.9438}}},
  {"mark":{"type":"text","text":"1@0.7756n","fontSize":4.5,"color":"#c02020","align":"left","baseline":"middle","font":"Liberation Sans"},"encoding":{"x":{"datum":2.3857},"y":{"datum":0.9176}}},
  {"mark":{"type":"text","text":"4in","fontSize":42,"align":"left","baseline":"middle"},"encoding":{"x":{"datum":2.391},"y":{"datum":0.648}}},
  {"mark":{"type":"text","text":"Response After 2P1Z CTLE","fontSize":11,"fontWeight":"bold","color":"#e6dc3c","baseline":"middle"},"encoding":{"x":{"datum":2.5835},"y":{"datum":0.9139}}},
  {"mark":{"type":"text","text":"Response After FFE","fontSize":11,"fontWeight":"bold","color":"#4aaad8","baseline":"middle"},"encoding":{"x":{"datum":2.6677},"y":{"datum":0.7715}}},
  {"mark":{"type":"text","text":"Response After Channel","fontSize":11,"fontWeight":"bold","color":"#20a060","baseline":"middle"},"encoding":{"x":{"datum":2.6852},"y":{"datum":0.4494}}},
  {"mark":{"type":"rule","color":"#f0f040","strokeWidth":2.5},"encoding":{"x":{"datum":2.5624},"y":{"datum":0.869},"x2":{"datum":2.5451},"y2":{"datum":0.723}}},
  {"mark":{"type":"point","shape":"M -0.7 0.9 L 0 0 L 0.7 0.9","size":180,"filled":false,"color":"#f0f040","strokeWidth":2.5,"angle":-149.5},"encoding":{"x":{"datum":2.5451},"y":{"datum":0.723}}},
  {"mark":{"type":"rule","color":"#80e0f0","strokeWidth":2.5},"encoding":{"x":{"datum":2.6586},"y":{"datum":0.719},"x2":{"datum":2.6241},"y2":{"datum":0.547}}},
  {"mark":{"type":"point","shape":"M -0.7 0.9 L 0 0 L 0.7 0.9","size":180,"filled":false,"color":"#80e0f0","strokeWidth":2.5,"angle":-135},"encoding":{"x":{"datum":2.6241},"y":{"datum":0.547}}},
  {"mark":{"type":"rule","color":"#30c080","strokeWidth":2.5},"encoding":{"x":{"datum":2.6519},"y":{"datum":0.4045},"x2":{"datum":2.5932},"y2":{"datum":0.0861}}},
  {"mark":{"type":"point","shape":"M -0.7 0.9 L 0 0 L 0.7 0.9","size":180,"filled":false,"color":"#30c080","strokeWidth":2.5,"angle":-137.5},"encoding":{"x":{"datum":2.5932},"y":{"datum":0.0861}}}
 ]}
]}
]
}
